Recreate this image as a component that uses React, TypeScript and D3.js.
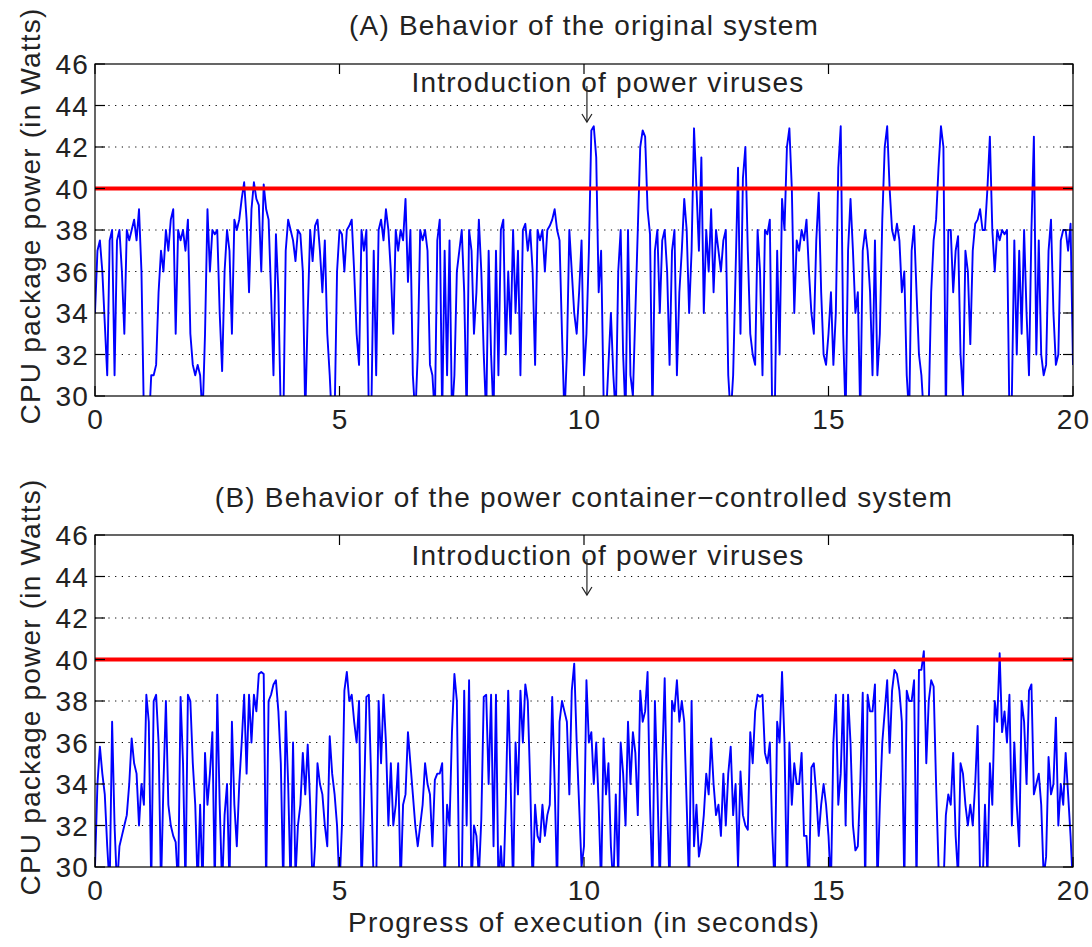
import React from "react";
import * as d3 from "d3";

// ---------- data (CPU package power in Watts, sampled every 0.05 s) ----------
const SAMPLE_DT = 0.05;
const timeTicks = [0, 5, 10, 15, 20];
const powerTicks = [30, 32, 34, 36, 38, 40, 42, 44, 46];
const gridTicks = [32, 34, 36, 38, 40, 42, 44];
const powerCap = 40;
const virusTime = 10.06;
const annotation = "Introduction of power viruses";
const titleA = "(A) Behavior of the original system";
const titleB = "(B) Behavior of the power container\u2212controlled system";
const yLabel = "CPU package power (in Watts)";
const xLabel = "Progress of execution (in seconds)";

const originalSystem = [
  34, 37, 37.5, 36, 33.5, 31, 37.5, 38, 31, 37.5, 38, 36, 33, 38, 37.5, 38, 38.5, 37.5, 39, 36,
  29, 29, 28.5, 31, 31, 31.5, 35, 37, 36, 38, 37, 38.5, 39, 33, 38, 37.5, 38, 37, 38.5, 33,
  31.5, 31, 31.5, 31, 29, 33, 39, 36, 38, 37.8, 38, 34, 31.2, 36, 38, 37, 33, 38.5, 38, 38.5,
  39.5, 40.3, 38.5, 35, 39, 40.3, 39.5, 39.2, 36, 40.2, 39, 38.5, 35, 31, 37.8, 35, 29, 28.5, 37, 38.5,
  38, 37.5, 36.5, 38, 37.8, 36, 29, 34, 38, 36.5, 38.2, 38.5, 37, 35, 37.5, 33, 31, 28.5, 29, 36,
  38, 37.8, 36, 38, 38.2, 38.5, 36, 33, 31.5, 38, 37, 38, 29, 29, 37, 31, 38, 38.5, 37.5, 39,
  38, 36, 33, 38, 37, 38, 37.5, 39.5, 35.5, 38, 31, 29, 32, 38, 37.5, 38, 37, 31.5, 31, 29,
  37.5, 38.5, 29, 37, 31, 37.5, 29, 31, 36, 37, 38, 35, 29, 38, 37, 33, 35, 38.5, 36, 32,
  29, 37, 32, 29, 37, 31, 38, 38.5, 32, 36, 33, 38, 34, 37, 31, 38, 38.3, 37, 38, 36,
  31.5, 38, 37.5, 38, 36, 38, 38.2, 38.5, 39, 38, 37.5, 33, 29, 32, 38, 36, 34, 33, 35, 37.5,
  31, 33, 37, 42.8, 43, 41.5, 35, 37, 30, 29, 31.5, 34, 31, 29, 36, 38, 32, 29, 38, 31,
  30, 34, 38, 42, 42.8, 42.5, 39, 37.8, 29, 37, 38, 34, 37.5, 38, 36, 31.5, 37, 38, 31, 35,
  37, 39.5, 38, 34, 37, 42.9, 40, 37, 41.5, 34, 38, 36, 39, 35, 38, 37, 36, 37.5, 38, 31,
  29, 31, 36, 41, 33, 40.5, 42, 37, 33, 32, 31.5, 38, 36, 31, 38, 37.8, 38.5, 29, 29, 37,
  32, 39.5, 38, 42, 42.9, 40, 34, 37.5, 37, 38, 37.5, 38.5, 36, 34, 33, 37.5, 39.8, 35, 32, 31.5,
  33, 35, 31.5, 34, 41, 43, 33, 29, 37, 39.5, 37, 34, 35, 29, 37, 38, 37, 35, 31, 37.5,
  31, 33, 38.5, 42, 43, 40, 38, 37.5, 38.3, 37.5, 35, 36, 31, 29, 37, 38.2, 35, 32, 31, 29,
  29, 29.5, 35, 37.5, 38.5, 41, 43, 42, 29, 38, 38, 35, 37, 37.7, 32, 30, 37, 36, 32.5, 37,
  38.3, 38.5, 39, 38, 38, 40, 42.5, 38, 36, 38, 37.5, 38, 37.8, 38, 29, 30, 37.5, 32, 37, 33,
  38, 34, 31, 38, 42.5, 32, 37.5, 32, 31, 31.5, 37, 38.5, 34, 31.5, 32, 37.5, 38, 38, 37, 38.3,
  31.5,
];

const controlledSystem = [
  30, 34, 35.8, 34.5, 33.5, 31, 29, 37, 32, 29, 31, 31.5, 32, 32.5, 34, 36.2, 35, 34.5, 32, 34,
  33, 38.3, 37, 29, 38, 38.3, 36, 29, 34, 38, 33, 32, 31.5, 31.2, 29, 38.2, 35, 29, 38.3, 38,
  35, 33, 29, 33, 29, 35.5, 33, 34.5, 36.5, 29, 38.3, 33, 29, 32.5, 34, 29, 37, 33, 31, 34,
  36, 38.3, 34.5, 38.3, 36, 38.3, 37.5, 39.3, 39.4, 39.3, 29, 38, 38.3, 38.8, 39, 37.5, 35, 29, 37.5, 34,
  29, 36, 29.5, 32, 33, 35.5, 33.5, 35.9, 33, 29, 31, 35, 34, 33.5, 32, 31, 36.3, 34.5, 33.5, 32,
  29, 32, 38.5, 39.4, 38, 38.3, 37, 36, 38, 29, 33, 38.2, 38.3, 34, 29, 29, 38, 35, 38.3, 36,
  32, 35, 32, 33, 35, 29, 33, 33.5, 36.5, 35, 33.5, 32, 31, 32, 33, 35, 34, 33.5, 31, 34.2,
  34.5, 34.5, 35, 29, 33, 32, 36.5, 39.3, 38, 29, 29, 38.5, 32, 39, 29, 32, 31.5, 29.5, 32.3, 38.2,
  38.3, 34, 38.3, 31, 38.3, 29, 31, 29, 33, 38.5, 34, 29, 36, 33.5, 38.5, 36, 38.8, 38, 34, 29,
  33, 31.5, 31.2, 33, 31.5, 32.5, 33, 38.2, 34, 29, 37, 38, 37.5, 37, 33.5, 38.5, 39.8, 36, 33, 30,
  31, 39, 36, 36.5, 34, 36, 33, 29, 36.2, 33.5, 35, 31, 29, 33.5, 29.5, 36, 34.5, 32, 37, 34,
  36.5, 35.5, 32.5, 38.5, 37, 37.5, 39.4, 33, 29, 38, 34, 29, 35, 39.1, 33, 29, 38, 37.5, 39, 37,
  38, 37, 33, 29, 38, 31, 33, 30.5, 31.2, 32.5, 34.5, 33.5, 36.2, 34, 32.5, 33, 31.5, 34.5, 32, 34.5,
  35.8, 32.5, 34, 30, 34.6, 32.5, 32, 31.8, 36.5, 35, 37.5, 38.3, 38.2, 38.3, 35.5, 35, 36, 31.7, 29, 37,
  36, 39.4, 36, 29, 36, 33, 35, 34, 34, 35.5, 31.5, 31.5, 29, 34.8, 35, 33.5, 31.5, 33, 34, 33,
  31.5, 29, 36, 38.3, 33, 34.5, 38.3, 32, 38.3, 36, 32, 30.8, 31, 34, 38.4, 29, 38.3, 37.5, 37.5, 38.8,
  29, 33, 36, 37.5, 39, 35.5, 38.5, 39.5, 39.3, 38.5, 37, 29, 38.5, 38, 38, 39, 29, 39.5, 39.5, 40.4,
  35, 38, 39, 38.7, 34, 30, 29, 29, 32.5, 33.5, 33, 35.5, 31.5, 29.5, 35, 34.5, 33, 32, 33, 32,
  34, 36.8, 29.5, 29, 33, 29.5, 35, 33, 38, 37, 40.3, 36.5, 37.5, 36, 38.3, 32, 36, 33, 31, 38,
  37, 34, 38.5, 38.8, 33.5, 34, 34.5, 33, 29.5, 30.5, 35.3, 33.5, 34, 37.2, 32, 34, 33, 35.5, 33.5, 31.5,
  29,
];

// ---------- layout ----------
const W = 1092;
const H = 947;
const LEFT = 95;
const RIGHT = 1073;
const FONT = "'Liberation Sans', Arial, Helvetica, sans-serif";
const FS = 28;
const LS = 1.2;

type PanelProps = {
  id: string;
  top: number;
  bottom: number;
  values: number[];
  title: string;
  titleY: number;
  annotY: number;
};

function Panel({ id, top, bottom, values, title, titleY, annotY }: PanelProps) {
  const x = d3.scaleLinear().domain([0, 20]).range([LEFT, RIGHT]);
  const y = d3.scaleLinear().domain([30, 46]).range([bottom, top]);
  const line = d3
    .line<number>()
    .x((_, i) => x(i * SAMPLE_DT))
    .y((d) => y(d));
  const tickLen = 10;
  const ax = x(virusTime);
  const textProps = { fontSize: FS, fontFamily: FONT, fill: "#222", letterSpacing: LS };
  return (
    <g>
      <defs>
        <clipPath id={`clip-${id}`}>
          <rect x={LEFT} y={top} width={RIGHT - LEFT} height={bottom - top} />
        </clipPath>
      </defs>
      {gridTicks.map((t) => (
        <line
          key={`g${t}`}
          x1={LEFT}
          x2={RIGHT}
          y1={y(t)}
          y2={y(t)}
          stroke="#000"
          strokeWidth={1}
          strokeDasharray="1.2,5.5"
        />
      ))}
      <g clipPath={`url(#clip-${id})`}>
        <path d={line(values) || ""} fill="none" stroke="#0000ff" strokeWidth={1.9} strokeLinejoin="round" />
      </g>
      <line x1={LEFT} x2={RIGHT} y1={y(powerCap)} y2={y(powerCap)} stroke="#ff0000" strokeWidth={4} />
      <rect x={LEFT} y={top} width={RIGHT - LEFT} height={bottom - top} fill="none" stroke="#000" strokeWidth={1.2} />
      {timeTicks.map((t) => (
        <g key={`x${t}`}>
          <line x1={x(t)} x2={x(t)} y1={bottom} y2={bottom - tickLen} stroke="#000" strokeWidth={1.2} />
          <line x1={x(t)} x2={x(t)} y1={top} y2={top + tickLen} stroke="#000" strokeWidth={1.2} />
          <text x={x(t) + LS / 2} y={bottom + 33} textAnchor="middle" {...textProps}>
            {t}
          </text>
        </g>
      ))}
      {powerTicks.map((t) => (
        <g key={`y${t}`}>
          <line x1={LEFT} x2={LEFT + tickLen} y1={y(t)} y2={y(t)} stroke="#000" strokeWidth={1.2} />
          <line x1={RIGHT} x2={RIGHT - tickLen} y1={y(t)} y2={y(t)} stroke="#000" strokeWidth={1.2} />
          <text x={LEFT - 6} y={y(t) + 10} textAnchor="end" {...textProps}>
            {t}
          </text>
        </g>
      ))}
      <text x={(LEFT + RIGHT) / 2} y={titleY} textAnchor="middle" {...textProps}>
        {title}
      </text>
      <text
        transform={`translate(40,${(top + bottom) / 2 - 14}) rotate(-90)`}
        textAnchor="middle"
        {...textProps}
      >
        {yLabel}
      </text>
      <text x={608} y={annotY} textAnchor="middle" {...textProps}>
        {annotation}
      </text>
      <line x1={ax} x2={ax} y1={annotY - 6} y2={annotY + 30} stroke="#222" strokeWidth={1.2} />
      <path
        d={`M${ax - 5},${annotY + 22} L${ax},${annotY + 30} L${ax + 5},${annotY + 22}`}
        fill="none"
        stroke="#222"
        strokeWidth={1.2}
      />
    </g>
  );
}

export default function App() {
  return (
    <>
      <style>{`body{margin:0}`}</style>
      <svg width={W} height={H} viewBox={`0 0 ${W} ${H}`} style={{ display: "block", background: "#fff" }}>
        <Panel id="a" top={64} bottom={396} values={originalSystem} title={titleA} titleY={35} annotY={92} />
        <Panel id="b" top={535} bottom={867} values={controlledSystem} title={titleB} titleY={507} annotY={565} />
        <text
          x={(LEFT + RIGHT) / 2}
          y={932}
          textAnchor="middle"
          fontSize={FS}
          fontFamily={FONT}
          fill="#222"
          letterSpacing={LS}
        >
          {xLabel}
        </text>
      </svg>
    </>
  );
}
